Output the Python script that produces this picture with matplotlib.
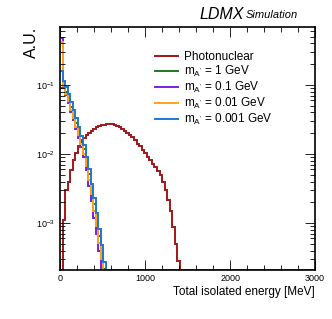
import numpy as np
import matplotlib
matplotlib.use('Agg')
import matplotlib.pyplot as plt
from matplotlib.ticker import MultipleLocator, LogLocator, NullFormatter

plt.rcParams['font.family'] = ['Liberation Sans', 'DejaVu Sans']
plt.rcParams['mathtext.fontset'] = 'custom'
plt.rcParams['mathtext.rm'] = 'Liberation Sans'
plt.rcParams['mathtext.it'] = 'Liberation Sans:italic'

# 30 MeV bins from 0 to 3000 MeV
bin_edges = np.arange(0, 3001, 30)

# photonuclear background, one value per bin (zeros past 1410 MeV)
photonuclear = [0.0, 0.0011, 0.003, 0.0039, 0.0059, 0.0081, 0.0102, 0.013, 0.015, 0.017,
                0.0186, 0.0204, 0.0219, 0.0234, 0.0245, 0.0254, 0.0263, 0.0266, 0.0269, 0.027,
                0.027, 0.0266, 0.0257, 0.0245, 0.0234, 0.0219, 0.0204, 0.0191, 0.0174, 0.0158,
                0.0141, 0.0129, 0.0115, 0.0102, 0.0091, 0.0081, 0.0072, 0.0065, 0.0056, 0.0049,
                0.0040, 0.0030, 0.0022, 0.0015, 0.00089, 0.0005, 0.00028]

# A' signal samples
sig_1gev = [0.09, 0.1, 0.08, 0.062, 0.048, 0.037, 0.028, 0.021, 0.016, 0.0118,
            0.008, 0.0051, 0.0032, 0.0019, 0.0011, 0.00065, 0.00038, 0.00022]
sig_01gev = [0.48, 0.09, 0.071, 0.054, 0.041, 0.031, 0.023, 0.017, 0.0125, 0.009,
             0.0058, 0.0035, 0.0021, 0.0012, 0.0007, 0.0004, 0.00022, 0.00011]
sig_001gev = [0.42, 0.095, 0.075, 0.058, 0.044, 0.033, 0.025, 0.019, 0.014, 0.01,
              0.0068, 0.0042, 0.0026, 0.0015, 0.0009, 0.00052, 0.0003, 0.00016]
sig_0001gev = [0.16, 0.115, 0.092, 0.073, 0.057, 0.044, 0.033, 0.025, 0.0185, 0.0135,
               0.0092, 0.006, 0.0037, 0.0023, 0.0014, 0.00082, 0.00048, 0.00027, 0.00013]

labels = ['Photonuclear',
          r'm$_{\mathrm{A^{\prime}}}$ = 1 GeV',
          r'm$_{\mathrm{A^{\prime}}}$ = 0.1 GeV',
          r'm$_{\mathrm{A^{\prime}}}$ = 0.01 GeV',
          r'm$_{\mathrm{A^{\prime}}}$ = 0.001 GeV']
colors = ['#a01818', '#1e7a1e', '#7a20e0', '#ffa31a', '#1e78d2']

YMIN, YMAX = 2.1e-4, 0.69

fig = plt.figure(figsize=(3.32, 3.19), dpi=100)
ax = fig.add_axes([0.181, 0.1536, 0.768, 0.7618])

for vals, lab, col in zip([photonuclear, sig_1gev, sig_01gev, sig_001gev, sig_0001gev], labels, colors):
    h = np.zeros(len(bin_edges) - 1)
    h[:len(vals)] = vals
    # empty bins sit on the bottom of the frame, like ROOT does
    h = np.clip(h, YMIN, None)
    ax.stairs(h, bin_edges, color=col, lw=1.4, label=lab, baseline=None)

ax.set_yscale('log')
ax.set_xlim(0, 3000)
ax.set_ylim(YMIN, YMAX)

ax.xaxis.set_major_locator(MultipleLocator(1000))
ax.xaxis.set_minor_locator(MultipleLocator(200))
ax.yaxis.set_major_locator(LogLocator(base=10))
ax.yaxis.set_minor_locator(LogLocator(base=10, subs=np.arange(2, 10)))
ax.yaxis.set_minor_formatter(NullFormatter())
ax.tick_params(which='both', direction='in', top=True, right=True, labelsize=6.5, width=0.6)
ax.tick_params(which='major', length=7)
ax.tick_params(which='minor', length=3.5)
ax.tick_params(axis='x', which='major', pad=3)
for s in ax.spines.values():
    s.set_linewidth(1.2)

ax.set_xlabel('Total isolated energy [MeV]', fontsize=8.5, loc='right', labelpad=2)
fig.text(0.095, 0.915, 'A.U.', rotation=90, fontsize=11.5, ha='center', va='top')

fig.text(0.735, 0.955, 'LDMX', fontsize=11.5, style='italic', ha='right', va='center')
fig.text(0.74, 0.952, 'Simulation', fontsize=8, style='italic', ha='left', va='center')

leg = ax.legend(loc='upper left', bbox_to_anchor=(0.33, 0.945), frameon=False, fontsize=8.5,
                handlelength=2.0, handletextpad=0.45, labelspacing=0.08)
for line in leg.get_lines():
    line.set_linewidth(1.4)

fig.savefig('out.png', dpi=100)
